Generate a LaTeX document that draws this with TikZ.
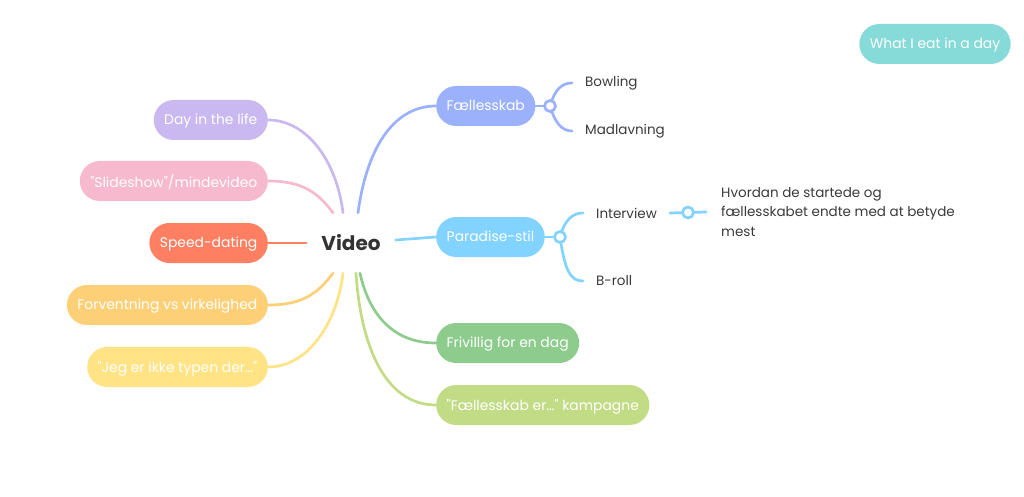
\documentclass[tikz,border=0pt]{standalone}
\usepackage{fontspec}
\setmainfont{Poppins}[Ligatures=TeXOff]
\usepackage{tikz}
\usetikzlibrary{calc}
\definecolor{cLav}{HTML}{CAB8F1}
\definecolor{cPink}{HTML}{F6B9CE}
\definecolor{cCoral}{HTML}{FF7F63}
\definecolor{cOrange}{HTML}{FDD077}
\definecolor{cYellow}{HTML}{FFE385}
\definecolor{cBlue}{HTML}{9BB1FB}
\definecolor{cSky}{HTML}{82D3FF}
\definecolor{cGreen}{HTML}{8DCC8D}
\definecolor{cLime}{HTML}{C2DB85}
\definecolor{cTeal}{HTML}{86DAD8}
\definecolor{cText}{HTML}{3A3A3A}
\definecolor{cDark}{HTML}{333333}

\begin{document}
\begin{tikzpicture}[x=1pt,y=-1pt,font=\fontsize{13.5}{19.5}\selectfont,
	pill/.style={rounded corners=20pt,minimum height=40pt,inner xsep=10.5pt,inner ysep=0pt,text=white,text depth=1pt,font=\fontsize{13.9}{17}\selectfont},
	leaf/.style={anchor=west,inner xsep=13pt,inner ysep=0pt,text=cText},
	link/.style={line width=2.7pt,line cap=round},
	knot/.style={circle,fill=white,line width=2.7pt,minimum size=11pt,inner sep=0pt}]
	\useasboundingbox (0,0) rectangle (1024,497);
	\node[pill,fill=cLav,anchor=east] (day) at (268,120) {Day in the life};
	\node[pill,fill=cPink,anchor=east] (slide) at (268,181) {"Slideshow"/mindevideo};
	\node[pill,fill=cCoral,anchor=east] (speed) at (268,243) {Speed-dating};
	\node[pill,fill=cOrange,anchor=east] (forv) at (268,305) {Forventning vs virkelighed};
	\node[pill,fill=cYellow,anchor=east] (jeg) at (268,367) {"Jeg er ikke typen der…"};
	\node[font=\fontsize{20}{24}\selectfont\bfseries,text=cDark,minimum width=89pt,minimum height=60pt,inner sep=0pt] (video) at (351,243) {Video};
	\node[pill,fill=cBlue,anchor=west] (faelles) at (436,106) {Fællesskab};
	\node[pill,fill=cSky,anchor=west] (paradise) at (436,237) {Paradise-stil};
	\node[pill,fill=cGreen,anchor=west] (frivillig) at (436,343) {Frivillig for en dag};
	\node[pill,fill=cLime,anchor=west] (kampagne) at (436,405) {"Fællesskab er…" kampagne};
	\node[pill,fill=cTeal] (eat) at (935,44) {What I eat in a day};
	\node[leaf] (bowling) at (572,83) {Bowling};
	\node[leaf] (madlavning) at (572,131) {Madlavning};
	\node[leaf] (interview) at (583,213) {Interview};
	\node[leaf] (broll) at (583,281) {B-roll};
	\node[leaf,align=left,inner xsep=15pt] (hvordan) at (706,212) {Hvordan de startede og\\fællesskabet endte med at betyde\\mest};
	\coordinate (k1) at (550,106);
	\coordinate (k2) at (560,237);
	\coordinate (k3) at ($(interview.east)!0.5!(hvordan.west)$);
	\draw[link,cLav] ([xshift=-8]video.north) .. controls +(-6,-50) and +(40,0) .. (day.east);
	\draw[link,cPink] ([xshift=-18]video.north) .. controls +(-15,-20) and +(35,0) .. (slide.east);
	\draw[link,cCoral] (speed.east) -- (video.west);
	\draw[link,cOrange] ([xshift=-18]video.south) .. controls +(-15,20) and +(35,0) .. (forv.east);
	\draw[link,cYellow] ([xshift=-8]video.south) .. controls +(-6,50) and +(40,0) .. (jeg.east);
	\draw[link,cBlue] ([xshift=7]video.north) .. controls +(8,-60) and +(-45,0) .. (faelles.west);
	\draw[link,cSky] ([yshift=3]video.east) -- (paradise.west);
	\draw[link,cGreen] ([xshift=9]video.south) .. controls +(10,45) and +(-40,0) .. (frivillig.west);
	\draw[link,cLime] ([xshift=5]video.south) .. controls +(5,75) and +(-50,0) .. (kampagne.west);
	\draw[link,cBlue] (faelles.east) -- (k1);
	\draw[link,cBlue] (k1) .. controls +(5,-17) and +(-10,0) .. (bowling.west);
	\draw[link,cBlue] (k1) .. controls +(5,17) and +(-10,0) .. (madlavning.west);
	\draw[link,cSky] (paradise.east) -- (k2);
	\draw[link,cSky] (k2) .. controls +(5,-18) and +(-10,0) .. (interview.west);
	\draw[link,cSky] (k2) .. controls +(5,35) and +(-12,0) .. (broll.west);
	\draw[link,cSky] (interview.east) -- (hvordan.west);
	\node[knot,draw=cBlue] at (k1) {};
	\node[knot,draw=cSky] at (k2) {};
	\node[knot,draw=cSky] at (k3) {};
\end{tikzpicture}
\end{document}
